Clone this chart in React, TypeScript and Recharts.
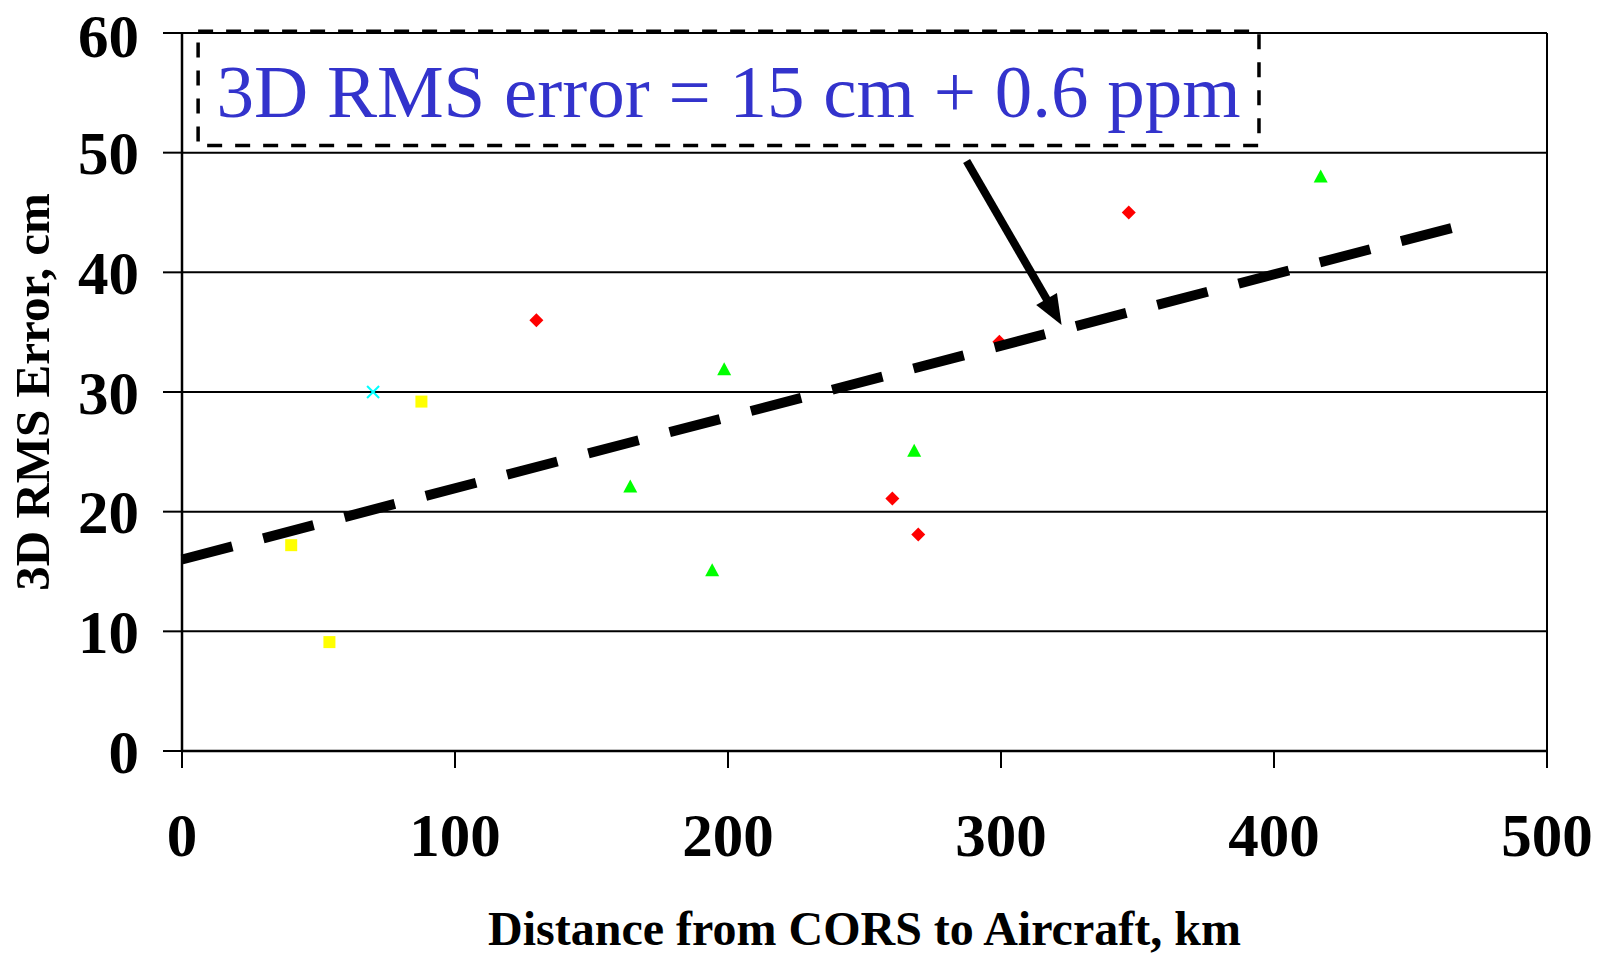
import { ScatterChart, Scatter, XAxis, YAxis, CartesianGrid, ReferenceLine, ReferenceArea } from 'recharts';

// distance (km) / 3D RMS error (cm)
const yellowPoints = [
  { x: 40, y: 17.2 },
  { x: 54, y: 9.1 },
  { x: 87.7, y: 29.2 },
];
const cyanPoints = [{ x: 70, y: 30 }];
const redPoints = [
  { x: 129.8, y: 36 },
  { x: 260.2, y: 21.1 },
  { x: 269.7, y: 18.1 },
  { x: 299.4, y: 34.2 },
  { x: 346.8, y: 45 },
];
const greenPoints = [
  { x: 164.2, y: 22.1 },
  { x: 194.2, y: 15.1 },
  { x: 198.6, y: 31.9 },
  { x: 268.2, y: 25.1 },
  { x: 417.1, y: 48 },
];
// fitted line 15 cm + 0.6 ppm (end points as drawn)
const trendPoints = [
  { x: 0, y: 16 },
  { x: 465, y: 43.7 },
];

const xTicks = [0, 100, 200, 300, 400, 500];
const yTicks = [0, 10, 20, 30, 40, 50, 60];

const annotationText = '3D RMS error = 15 cm + 0.6 ppm';
const annotationBox = { x1: 5.9, x2: 394.5, y1: 50.6, y2: 60.15 };
const arrowSegment = [
  { x: 287.4, y: 49.3 },
  { x: 322.2, y: 35.6 },
];

const FONT = '"Liberation Serif", "Times New Roman", serif';
const tickStyle = { fontSize: 61, fontWeight: 700, fill: '#000', fontFamily: FONT };

const square = (p: any) => (
  <rect x={p.cx - 6} y={p.cy - 6} width={12} height={12} fill="#ffff00" />
);
const diamond = (p: any) => (
  <polygon
    points={`${p.cx},${p.cy - 7} ${p.cx + 7},${p.cy} ${p.cx},${p.cy + 7} ${p.cx - 7},${p.cy}`}
    fill="#ff0000"
  />
);
const triangle = (p: any) => (
  <polygon
    points={`${p.cx},${p.cy - 7} ${p.cx + 7},${p.cy + 6} ${p.cx - 7},${p.cy + 6}`}
    fill="#00ff00"
  />
);
const cross = (p: any) => (
  <g stroke="#00ffff" strokeWidth={2}>
    <line x1={p.cx - 6} y1={p.cy - 6} x2={p.cx + 6} y2={p.cy + 6} />
    <line x1={p.cx - 6} y1={p.cy + 6} x2={p.cx + 6} y2={p.cy - 6} />
  </g>
);

const arrowShape = (p: any) => {
  const { x1, y1, x2, y2 } = p;
  const dx = x2 - x1;
  const dy = y2 - y1;
  const len = Math.sqrt(dx * dx + dy * dy);
  const ux = dx / len;
  const uy = dy / len;
  const headLen = 30;
  const half = 12;
  const bx = x2 - ux * headLen;
  const by = y2 - uy * headLen;
  return (
    <g>
      <line x1={x1} y1={y1} x2={bx + ux * 2} y2={by + uy * 2} stroke="#000" strokeWidth={8} />
      <polygon
        points={`${x2},${y2} ${bx - uy * half},${by + ux * half} ${bx + uy * half},${by - ux * half}`}
        fill="#000"
      />
    </g>
  );
};

const BoxLabel = ({ viewBox }: any) => {
  const cx = viewBox.x + viewBox.width / 2;
  return (
    <text
      x={cx}
      y={viewBox.y + viewBox.height - 28}
      textAnchor="middle"
      fontSize={75}
      fontFamily={FONT}
      fill="#3333cc"
    >
      {annotationText}
    </text>
  );
};

const YTitle = ({ viewBox }: any) => {
  const cx = 32;
  const cy = viewBox.y + viewBox.height / 2;
  return (
    <text
      x={cx}
      y={cy}
      transform={`rotate(-90 ${cx} ${cy})`}
      textAnchor="middle"
      dominantBaseline="central"
      fontSize={49}
      fontWeight={700}
      fontFamily={FONT}
      fill="#000"
    >
      3D RMS Error, cm
    </text>
  );
};

const XTitle = ({ viewBox }: any) => (
  <text
    x={viewBox.x + viewBox.width / 2}
    y={viewBox.y + 194}
    textAnchor="middle"
    fontSize={48}
    fontWeight={700}
    fontFamily={FONT}
    fill="#000"
  >
    Distance from CORS to Aircraft, km
  </text>
);

export default function App() {
  return (
    <div style={{ position: 'absolute', left: 0, top: 0, background: '#fff' }}>
      <ScatterChart
        width={1597}
        height={955}
        margin={{ top: 33, right: 50, bottom: 0, left: 0 }}
        style={{ fontFamily: FONT }}
      >
        <CartesianGrid vertical={false} stroke="#000" strokeWidth={2} />
        <XAxis
          type="number"
          dataKey="x"
          domain={[0, 500]}
          ticks={xTicks}
          height={204}
          tick={tickStyle}
          tickSize={17}
          tickMargin={45}
          axisLine={{ stroke: '#000', strokeWidth: 2.5 }}
          tickLine={{ stroke: '#000', strokeWidth: 2 }}
          label={{ content: XTitle }}
        />
        <YAxis
          type="number"
          dataKey="y"
          domain={[0, 60]}
          ticks={yTicks}
          width={182}
          tick={tickStyle}
          tickSize={19}
          tickMargin={24}
          axisLine={{ stroke: '#000', strokeWidth: 2.5 }}
          tickLine={{ stroke: '#000', strokeWidth: 2 }}
          label={{ content: YTitle }}
        />
        <ReferenceLine x={500} stroke="#000" strokeWidth={2} />
        <ReferenceArea
          x1={annotationBox.x1}
          x2={annotationBox.x2}
          y1={annotationBox.y1}
          y2={annotationBox.y2}
          ifOverflow="visible"
          fill="none"
          stroke="#000"
          strokeWidth={3.5}
          strokeDasharray="15 13"
          label={{ content: BoxLabel }}
        />
        <Scatter data={yellowPoints} shape={square} isAnimationActive={false} />
        <Scatter data={cyanPoints} shape={cross} isAnimationActive={false} />
        <Scatter data={redPoints} shape={diamond} isAnimationActive={false} />
        <Scatter data={greenPoints} shape={triangle} isAnimationActive={false} />
        <Scatter
          data={trendPoints}
          line={{ stroke: '#000', strokeWidth: 10, strokeDasharray: '52 32' }}
          shape={() => <g />}
          isAnimationActive={false}
        />
        <ReferenceLine segment={arrowSegment} ifOverflow="visible" shape={arrowShape} />
      </ScatterChart>
    </div>
  );
}
